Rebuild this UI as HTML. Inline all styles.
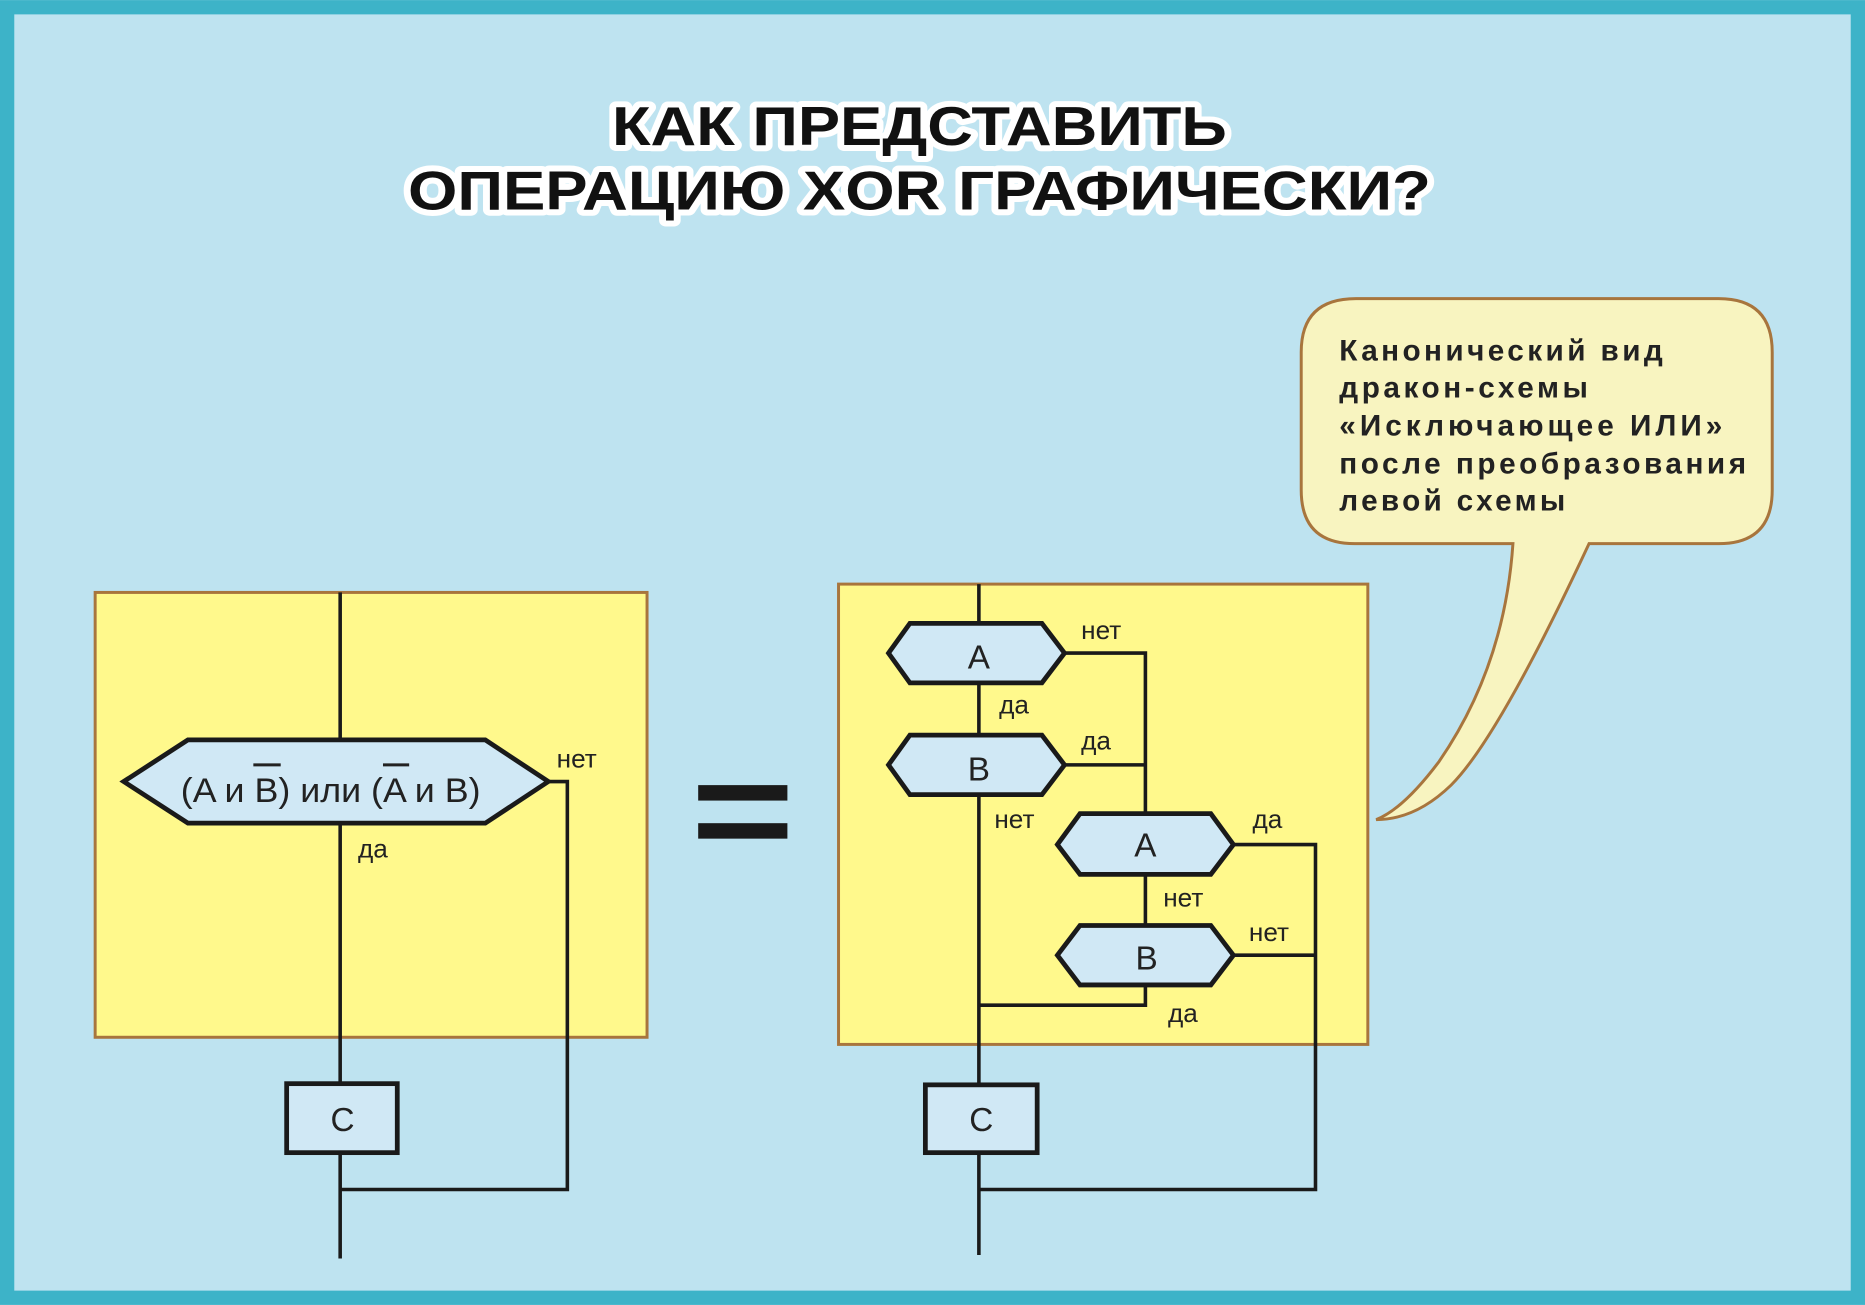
<!DOCTYPE html>
<html><head><meta charset="utf-8"><style>html,body{margin:0;padding:0;background:#bee3f0}svg{display:block}</style></head><body>
<svg xmlns="http://www.w3.org/2000/svg" width="1865" height="1305" viewBox="0 0 1568 1097" font-family="'Liberation Sans','DejaVu Sans',sans-serif">
<rect x="6" y="6" width="1556" height="1085" fill="#bee3f0" stroke="#3db3c8" stroke-width="12"/>
<g font-size="46" font-weight="bold" text-anchor="middle" stroke-linejoin="round">
<text x="773" y="122" textLength="517" lengthAdjust="spacingAndGlyphs" fill="#fff" stroke="#fff" stroke-width="10">КАК ПРЕДСТАВИТЬ</text>
<text x="773" y="122" textLength="517" lengthAdjust="spacingAndGlyphs" fill="#111">КАК ПРЕДСТАВИТЬ</text>
<text x="773" y="176" textLength="860" lengthAdjust="spacingAndGlyphs" fill="#fff" stroke="#fff" stroke-width="10">ОПЕРАЦИЮ XOR ГРАФИЧЕСКИ?</text>
<text x="773" y="176" textLength="860" lengthAdjust="spacingAndGlyphs" fill="#111">ОПЕРАЦИЮ XOR ГРАФИЧЕСКИ?</text>
</g>
<!-- left -->
<rect x="80" y="498" width="464" height="374" fill="#fff98c" stroke="#a8753d" stroke-width="2.5"/>
<g stroke="#1a1a1a" stroke-width="3" fill="none">
<line x1="286" y1="498" x2="286" y2="1058"/>
<polyline points="461,657 477,657 477,1000 286,1000"/>
</g>
<polygon points="104,657 158,622 408,622 461,657 408,692 158,692" fill="#d0e8f5" stroke="#1a1a1a" stroke-width="4"/>
<text x="278" y="674" font-size="29" text-anchor="middle" fill="#222" textLength="252" lengthAdjust="spacingAndGlyphs">(A и B) или (A и B)</text>
<line x1="213" y1="643" x2="236" y2="643" stroke="#222" stroke-width="2.5"/>
<line x1="322" y1="643" x2="344" y2="643" stroke="#222" stroke-width="2.5"/>
<g font-size="22" fill="#222"><text x="468" y="645">нет</text><text x="301" y="721">да</text></g>
<rect x="241" y="911" width="93" height="58" fill="#d0e8f5" stroke="#1a1a1a" stroke-width="4"/>
<text x="288" y="951" font-size="28" text-anchor="middle" fill="#222">C</text>
<rect x="587" y="660" width="75" height="13" fill="#1a1a1a"/>
<rect x="587" y="692" width="75" height="13" fill="#1a1a1a"/>
<!-- right -->
<rect x="705" y="491" width="445" height="387" fill="#fff98c" stroke="#a8753d" stroke-width="2.5"/>
<g stroke="#1a1a1a" stroke-width="3" fill="none">
<line x1="823" y1="491" x2="823" y2="1055"/>
<polyline points="895,549 963,549 963,684"/>
<line x1="895" y1="643" x2="963" y2="643"/>
<polyline points="1037,710 1106,710 1106,1000 823,1000"/>
<line x1="963" y1="735" x2="963" y2="777"/>
<line x1="1037" y1="803" x2="1106" y2="803"/>
<polyline points="963,828 963,845 823,845"/>
</g>
<g fill="#d0e8f5" stroke="#1a1a1a" stroke-width="4">
<polygon points="747,549 765,524 876,524 895,549 876,574 765,574"/>
<polygon points="747,643 765,618 876,618 895,643 876,668 765,668"/>
<polygon points="889,710 908,684 1018,684 1037,710 1018,735 908,735"/>
<polygon points="889,803 908,778 1018,778 1037,803 1018,828 908,828"/>
</g>
<g font-size="28" text-anchor="middle" fill="#222">
<text x="823" y="562">A</text><text x="823" y="656">B</text><text x="963" y="720">A</text><text x="964" y="815">B</text>
</g>
<g font-size="22" fill="#222">
<text x="909" y="537">нет</text><text x="840" y="600">да</text><text x="909" y="630">да</text>
<text x="836" y="696">нет</text><text x="1053" y="696">да</text><text x="978" y="762">нет</text>
<text x="1050" y="791">нет</text><text x="982" y="859">да</text>
</g>
<rect x="778" y="912" width="94" height="57" fill="#d0e8f5" stroke="#1a1a1a" stroke-width="4"/>
<text x="825" y="951" font-size="28" text-anchor="middle" fill="#222">C</text>
<!-- callout -->
<path d="M1140,251 H1445 Q1490,251 1490,296 V412 Q1490,457 1445,457 H1336 Q1260,620 1220,660 Q1190,689 1157,689 Q1180,680 1210,640 Q1265,560 1272,457 H1139 Q1094,457 1094,412 V296 Q1094,251 1140,251 Z" fill="#f8f4c0" stroke="#a8753d" stroke-width="2.5"/>
<g font-size="25" fill="#222" font-weight="bold" lengthAdjust="spacing">
<text x="1126" y="303" textLength="272">Канонический вид</text>
<text x="1126" y="334" textLength="209">дракон-схемы</text>
<text x="1126" y="366" textLength="322">«Исключающее ИЛИ»</text>
<text x="1126" y="398" textLength="342">после преобразования</text>
<text x="1126" y="429" textLength="190">левой схемы</text>
</g>
</svg>
</body></html>
